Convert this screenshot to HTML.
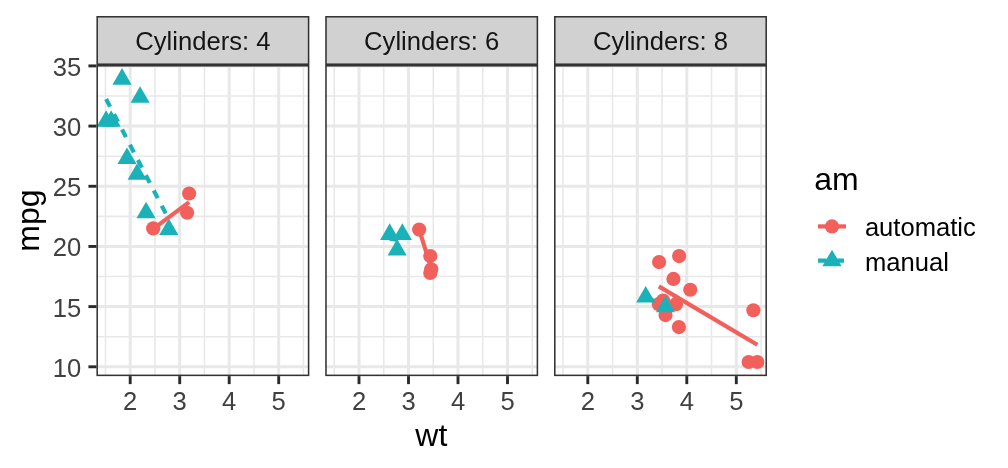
<!DOCTYPE html>
<html><head><meta charset="utf-8"><style>
html,body{margin:0;padding:0;background:#fff;width:1008px;height:468px;overflow:hidden}
svg{display:block;will-change:transform}
text{font-family:"Liberation Sans",sans-serif}
</style></head><body>
<svg width="1008" height="468" viewBox="0 0 1008 468">
<rect width="1008" height="468" fill="#fff"/>
<rect x="96.42" y="65.00" width="212.95" height="311.13" fill="#fff"/>
<line x1="96.42" x2="309.37" y1="336.71" y2="336.71" stroke="#E8E8E8" stroke-width="1.55"/>
<line x1="96.42" x2="309.37" y1="276.53" y2="276.53" stroke="#E8E8E8" stroke-width="1.55"/>
<line x1="96.42" x2="309.37" y1="216.35" y2="216.35" stroke="#E8E8E8" stroke-width="1.55"/>
<line x1="96.42" x2="309.37" y1="156.17" y2="156.17" stroke="#E8E8E8" stroke-width="1.55"/>
<line x1="96.42" x2="309.37" y1="95.99" y2="95.99" stroke="#E8E8E8" stroke-width="1.55"/>
<line y1="65.00" y2="376.13" x1="105.45" x2="105.45" stroke="#E8E8E8" stroke-width="1.55"/>
<line y1="65.00" y2="376.13" x1="154.95" x2="154.95" stroke="#E8E8E8" stroke-width="1.55"/>
<line y1="65.00" y2="376.13" x1="204.45" x2="204.45" stroke="#E8E8E8" stroke-width="1.55"/>
<line y1="65.00" y2="376.13" x1="253.95" x2="253.95" stroke="#E8E8E8" stroke-width="1.55"/>
<line y1="65.00" y2="376.13" x1="303.45" x2="303.45" stroke="#E8E8E8" stroke-width="1.55"/>
<line x1="96.42" x2="309.37" y1="366.80" y2="366.80" stroke="#E8E8E8" stroke-width="3.0"/>
<line x1="96.42" x2="309.37" y1="306.62" y2="306.62" stroke="#E8E8E8" stroke-width="3.0"/>
<line x1="96.42" x2="309.37" y1="246.44" y2="246.44" stroke="#E8E8E8" stroke-width="3.0"/>
<line x1="96.42" x2="309.37" y1="186.26" y2="186.26" stroke="#E8E8E8" stroke-width="3.0"/>
<line x1="96.42" x2="309.37" y1="126.08" y2="126.08" stroke="#E8E8E8" stroke-width="3.0"/>
<line x1="96.42" x2="309.37" y1="65.90" y2="65.90" stroke="#E8E8E8" stroke-width="3.0"/>
<line y1="65.00" y2="376.13" x1="130.20" x2="130.20" stroke="#E8E8E8" stroke-width="3.0"/>
<line y1="65.00" y2="376.13" x1="179.70" x2="179.70" stroke="#E8E8E8" stroke-width="3.0"/>
<line y1="65.00" y2="376.13" x1="229.20" x2="229.20" stroke="#E8E8E8" stroke-width="3.0"/>
<line y1="65.00" y2="376.13" x1="278.70" x2="278.70" stroke="#E8E8E8" stroke-width="3.0"/>
<polygon points="146.04,201.68 155.62,218.27 136.46,218.27" fill="#1AB2B8"/>
<circle cx="189.10" cy="193.48" r="7.1" fill="#F2605B"/>
<circle cx="187.12" cy="212.74" r="7.1" fill="#F2605B"/>
<polygon points="140.10,86.14 149.68,102.72 130.52,102.72" fill="#1AB2B8"/>
<polygon points="111.14,110.21 120.72,126.79 101.57,126.79" fill="#1AB2B8"/>
<polygon points="122.03,68.08 131.61,84.67 112.46,84.67" fill="#1AB2B8"/>
<circle cx="153.22" cy="228.39" r="7.1" fill="#F2605B"/>
<polygon points="126.98,147.52 136.56,164.11 117.41,164.11" fill="#1AB2B8"/>
<polygon points="137.13,163.17 146.71,179.75 127.55,179.75" fill="#1AB2B8"/>
<polygon points="106.09,110.21 115.67,126.79 96.52,126.79" fill="#1AB2B8"/>
<polygon points="168.81,218.53 178.39,235.12 159.23,235.12" fill="#1AB2B8"/>
<line x1="153.22" y1="228.89" x2="189.10" y2="202.12" stroke="#F2605B" stroke-width="4.2"/>
<line x1="106.09" y1="98.97" x2="168.81" y2="219.34" stroke="#1AB2B8" stroke-width="4.2" stroke-dasharray="8.6 8.6"/>
<rect x="97.19" y="65.77" width="211.40" height="309.58" fill="none" stroke="#333333" stroke-width="1.55"/>
<rect x="97.19" y="16.77" width="211.40" height="47.45" fill="#D1D1D1" stroke="#333333" stroke-width="1.55"/>
<text x="202.89" y="50.2" text-anchor="middle" font-size="25.6" fill="#151515">Cylinders: 4</text>
<line x1="130.20" x2="130.20" y1="376.13" y2="384.13" stroke="#2A2A2A" stroke-width="2.9"/>
<text x="130.20" y="410.2" text-anchor="middle" font-size="25.6" fill="#404040">2</text>
<line x1="179.70" x2="179.70" y1="376.13" y2="384.13" stroke="#2A2A2A" stroke-width="2.9"/>
<text x="179.70" y="410.2" text-anchor="middle" font-size="25.6" fill="#404040">3</text>
<line x1="229.20" x2="229.20" y1="376.13" y2="384.13" stroke="#2A2A2A" stroke-width="2.9"/>
<text x="229.20" y="410.2" text-anchor="middle" font-size="25.6" fill="#404040">4</text>
<line x1="278.70" x2="278.70" y1="376.13" y2="384.13" stroke="#2A2A2A" stroke-width="2.9"/>
<text x="278.70" y="410.2" text-anchor="middle" font-size="25.6" fill="#404040">5</text>
<rect x="325.22" y="65.00" width="212.95" height="311.13" fill="#fff"/>
<line x1="325.22" x2="538.17" y1="336.71" y2="336.71" stroke="#E8E8E8" stroke-width="1.55"/>
<line x1="325.22" x2="538.17" y1="276.53" y2="276.53" stroke="#E8E8E8" stroke-width="1.55"/>
<line x1="325.22" x2="538.17" y1="216.35" y2="216.35" stroke="#E8E8E8" stroke-width="1.55"/>
<line x1="325.22" x2="538.17" y1="156.17" y2="156.17" stroke="#E8E8E8" stroke-width="1.55"/>
<line x1="325.22" x2="538.17" y1="95.99" y2="95.99" stroke="#E8E8E8" stroke-width="1.55"/>
<line y1="65.00" y2="376.13" x1="334.25" x2="334.25" stroke="#E8E8E8" stroke-width="1.55"/>
<line y1="65.00" y2="376.13" x1="383.75" x2="383.75" stroke="#E8E8E8" stroke-width="1.55"/>
<line y1="65.00" y2="376.13" x1="433.25" x2="433.25" stroke="#E8E8E8" stroke-width="1.55"/>
<line y1="65.00" y2="376.13" x1="482.75" x2="482.75" stroke="#E8E8E8" stroke-width="1.55"/>
<line y1="65.00" y2="376.13" x1="532.25" x2="532.25" stroke="#E8E8E8" stroke-width="1.55"/>
<line x1="325.22" x2="538.17" y1="366.80" y2="366.80" stroke="#E8E8E8" stroke-width="3.0"/>
<line x1="325.22" x2="538.17" y1="306.62" y2="306.62" stroke="#E8E8E8" stroke-width="3.0"/>
<line x1="325.22" x2="538.17" y1="246.44" y2="246.44" stroke="#E8E8E8" stroke-width="3.0"/>
<line x1="325.22" x2="538.17" y1="186.26" y2="186.26" stroke="#E8E8E8" stroke-width="3.0"/>
<line x1="325.22" x2="538.17" y1="126.08" y2="126.08" stroke="#E8E8E8" stroke-width="3.0"/>
<line x1="325.22" x2="538.17" y1="65.90" y2="65.90" stroke="#E8E8E8" stroke-width="3.0"/>
<line y1="65.00" y2="376.13" x1="359.00" x2="359.00" stroke="#E8E8E8" stroke-width="3.0"/>
<line y1="65.00" y2="376.13" x1="408.50" x2="408.50" stroke="#E8E8E8" stroke-width="3.0"/>
<line y1="65.00" y2="376.13" x1="458.00" x2="458.00" stroke="#E8E8E8" stroke-width="3.0"/>
<line y1="65.00" y2="376.13" x1="507.50" x2="507.50" stroke="#E8E8E8" stroke-width="3.0"/>
<polygon points="389.69,223.35 399.27,239.93 380.11,239.93" fill="#1AB2B8"/>
<polygon points="402.31,223.35 411.89,239.93 392.74,239.93" fill="#1AB2B8"/>
<circle cx="419.14" cy="229.59" r="7.1" fill="#F2605B"/>
<circle cx="431.27" cy="269.31" r="7.1" fill="#F2605B"/>
<circle cx="430.28" cy="256.07" r="7.1" fill="#F2605B"/>
<circle cx="430.28" cy="272.92" r="7.1" fill="#F2605B"/>
<polygon points="397.12,238.99 406.69,255.58 387.54,255.58" fill="#1AB2B8"/>
<line x1="419.14" y1="229.49" x2="431.27" y2="268.24" stroke="#F2605B" stroke-width="4.2"/>
<line x1="389.69" y1="238.66" x2="402.31" y2="240.48" stroke="#1AB2B8" stroke-width="4.2" stroke-dasharray="8.6 8.6"/>
<rect x="325.99" y="65.77" width="211.40" height="309.58" fill="none" stroke="#333333" stroke-width="1.55"/>
<rect x="325.99" y="16.77" width="211.40" height="47.45" fill="#D1D1D1" stroke="#333333" stroke-width="1.55"/>
<text x="431.69" y="50.2" text-anchor="middle" font-size="25.6" fill="#151515">Cylinders: 6</text>
<line x1="359.00" x2="359.00" y1="376.13" y2="384.13" stroke="#2A2A2A" stroke-width="2.9"/>
<text x="359.00" y="410.2" text-anchor="middle" font-size="25.6" fill="#404040">2</text>
<line x1="408.50" x2="408.50" y1="376.13" y2="384.13" stroke="#2A2A2A" stroke-width="2.9"/>
<text x="408.50" y="410.2" text-anchor="middle" font-size="25.6" fill="#404040">3</text>
<line x1="458.00" x2="458.00" y1="376.13" y2="384.13" stroke="#2A2A2A" stroke-width="2.9"/>
<text x="458.00" y="410.2" text-anchor="middle" font-size="25.6" fill="#404040">4</text>
<line x1="507.50" x2="507.50" y1="376.13" y2="384.13" stroke="#2A2A2A" stroke-width="2.9"/>
<text x="507.50" y="410.2" text-anchor="middle" font-size="25.6" fill="#404040">5</text>
<rect x="554.02" y="65.00" width="212.95" height="311.13" fill="#fff"/>
<line x1="554.02" x2="766.97" y1="336.71" y2="336.71" stroke="#E8E8E8" stroke-width="1.55"/>
<line x1="554.02" x2="766.97" y1="276.53" y2="276.53" stroke="#E8E8E8" stroke-width="1.55"/>
<line x1="554.02" x2="766.97" y1="216.35" y2="216.35" stroke="#E8E8E8" stroke-width="1.55"/>
<line x1="554.02" x2="766.97" y1="156.17" y2="156.17" stroke="#E8E8E8" stroke-width="1.55"/>
<line x1="554.02" x2="766.97" y1="95.99" y2="95.99" stroke="#E8E8E8" stroke-width="1.55"/>
<line y1="65.00" y2="376.13" x1="563.05" x2="563.05" stroke="#E8E8E8" stroke-width="1.55"/>
<line y1="65.00" y2="376.13" x1="612.55" x2="612.55" stroke="#E8E8E8" stroke-width="1.55"/>
<line y1="65.00" y2="376.13" x1="662.05" x2="662.05" stroke="#E8E8E8" stroke-width="1.55"/>
<line y1="65.00" y2="376.13" x1="711.55" x2="711.55" stroke="#E8E8E8" stroke-width="1.55"/>
<line y1="65.00" y2="376.13" x1="761.05" x2="761.05" stroke="#E8E8E8" stroke-width="1.55"/>
<line x1="554.02" x2="766.97" y1="366.80" y2="366.80" stroke="#E8E8E8" stroke-width="3.0"/>
<line x1="554.02" x2="766.97" y1="306.62" y2="306.62" stroke="#E8E8E8" stroke-width="3.0"/>
<line x1="554.02" x2="766.97" y1="246.44" y2="246.44" stroke="#E8E8E8" stroke-width="3.0"/>
<line x1="554.02" x2="766.97" y1="186.26" y2="186.26" stroke="#E8E8E8" stroke-width="3.0"/>
<line x1="554.02" x2="766.97" y1="126.08" y2="126.08" stroke="#E8E8E8" stroke-width="3.0"/>
<line x1="554.02" x2="766.97" y1="65.90" y2="65.90" stroke="#E8E8E8" stroke-width="3.0"/>
<line y1="65.00" y2="376.13" x1="587.80" x2="587.80" stroke="#E8E8E8" stroke-width="3.0"/>
<line y1="65.00" y2="376.13" x1="637.30" x2="637.30" stroke="#E8E8E8" stroke-width="3.0"/>
<line y1="65.00" y2="376.13" x1="686.80" x2="686.80" stroke="#E8E8E8" stroke-width="3.0"/>
<line y1="65.00" y2="376.13" x1="736.30" x2="736.30" stroke="#E8E8E8" stroke-width="3.0"/>
<circle cx="659.08" cy="262.09" r="7.1" fill="#F2605B"/>
<circle cx="665.51" cy="315.05" r="7.1" fill="#F2605B"/>
<circle cx="690.27" cy="289.77" r="7.1" fill="#F2605B"/>
<circle cx="673.43" cy="278.94" r="7.1" fill="#F2605B"/>
<circle cx="675.91" cy="304.21" r="7.1" fill="#F2605B"/>
<circle cx="748.67" cy="361.99" r="7.1" fill="#F2605B"/>
<circle cx="757.29" cy="361.99" r="7.1" fill="#F2605B"/>
<circle cx="753.38" cy="310.23" r="7.1" fill="#F2605B"/>
<circle cx="663.04" cy="300.60" r="7.1" fill="#F2605B"/>
<circle cx="658.83" cy="304.21" r="7.1" fill="#F2605B"/>
<circle cx="678.88" cy="327.08" r="7.1" fill="#F2605B"/>
<circle cx="679.13" cy="256.07" r="7.1" fill="#F2605B"/>
<polygon points="645.72,285.93 655.29,302.52 636.14,302.52" fill="#1AB2B8"/>
<polygon points="665.51,295.56 675.09,312.15 655.94,312.15" fill="#1AB2B8"/>
<line x1="658.83" y1="286.38" x2="757.29" y2="344.76" stroke="#F2605B" stroke-width="4.2"/>
<line x1="645.72" y1="296.99" x2="665.51" y2="306.62" stroke="#1AB2B8" stroke-width="4.2" stroke-dasharray="8.6 8.6"/>
<rect x="554.79" y="65.77" width="211.40" height="309.58" fill="none" stroke="#333333" stroke-width="1.55"/>
<rect x="554.79" y="16.77" width="211.40" height="47.45" fill="#D1D1D1" stroke="#333333" stroke-width="1.55"/>
<text x="660.49" y="50.2" text-anchor="middle" font-size="25.6" fill="#151515">Cylinders: 8</text>
<line x1="587.80" x2="587.80" y1="376.13" y2="384.13" stroke="#2A2A2A" stroke-width="2.9"/>
<text x="587.80" y="410.2" text-anchor="middle" font-size="25.6" fill="#404040">2</text>
<line x1="637.30" x2="637.30" y1="376.13" y2="384.13" stroke="#2A2A2A" stroke-width="2.9"/>
<text x="637.30" y="410.2" text-anchor="middle" font-size="25.6" fill="#404040">3</text>
<line x1="686.80" x2="686.80" y1="376.13" y2="384.13" stroke="#2A2A2A" stroke-width="2.9"/>
<text x="686.80" y="410.2" text-anchor="middle" font-size="25.6" fill="#404040">4</text>
<line x1="736.30" x2="736.30" y1="376.13" y2="384.13" stroke="#2A2A2A" stroke-width="2.9"/>
<text x="736.30" y="410.2" text-anchor="middle" font-size="25.6" fill="#404040">5</text>
<line x1="88.42" x2="96.42" y1="366.80" y2="366.80" stroke="#2A2A2A" stroke-width="2.9"/>
<text x="81.2" y="376.80" text-anchor="end" font-size="25.6" fill="#404040">10</text>
<line x1="88.42" x2="96.42" y1="306.62" y2="306.62" stroke="#2A2A2A" stroke-width="2.9"/>
<text x="81.2" y="316.62" text-anchor="end" font-size="25.6" fill="#404040">15</text>
<line x1="88.42" x2="96.42" y1="246.44" y2="246.44" stroke="#2A2A2A" stroke-width="2.9"/>
<text x="81.2" y="256.44" text-anchor="end" font-size="25.6" fill="#404040">20</text>
<line x1="88.42" x2="96.42" y1="186.26" y2="186.26" stroke="#2A2A2A" stroke-width="2.9"/>
<text x="81.2" y="196.26" text-anchor="end" font-size="25.6" fill="#404040">25</text>
<line x1="88.42" x2="96.42" y1="126.08" y2="126.08" stroke="#2A2A2A" stroke-width="2.9"/>
<text x="81.2" y="136.08" text-anchor="end" font-size="25.6" fill="#404040">30</text>
<line x1="88.42" x2="96.42" y1="65.90" y2="65.90" stroke="#2A2A2A" stroke-width="2.9"/>
<text x="81.2" y="75.90" text-anchor="end" font-size="25.6" fill="#404040">35</text>
<text x="431.35" y="445.7" text-anchor="middle" font-size="32" fill="#000">wt</text>
<text transform="translate(38.9,220.5) rotate(-90)" text-anchor="middle" font-size="32" fill="#000">mpg</text>
<text x="814.2" y="190.4" font-size="32" fill="#000">am</text>
<line x1="818" x2="846" y1="226.40" y2="226.40" stroke="#F2605B" stroke-width="4.2"/>
<circle cx="832.00" cy="226.40" r="7.1" fill="#F2605B"/>
<text x="864.9" y="236.20" font-size="25.6" fill="#000">automatic</text>
<line x1="818" x2="844" y1="260.70" y2="260.70" stroke="#1AB2B8" stroke-width="4.2" stroke-dasharray="8.67 8.67"/>
<polygon points="832.00,249.64 841.58,266.23 822.42,266.23" fill="#1AB2B8"/>
<text x="864.9" y="270.50" font-size="25.6" fill="#000">manual</text>
</svg>
</body></html>
